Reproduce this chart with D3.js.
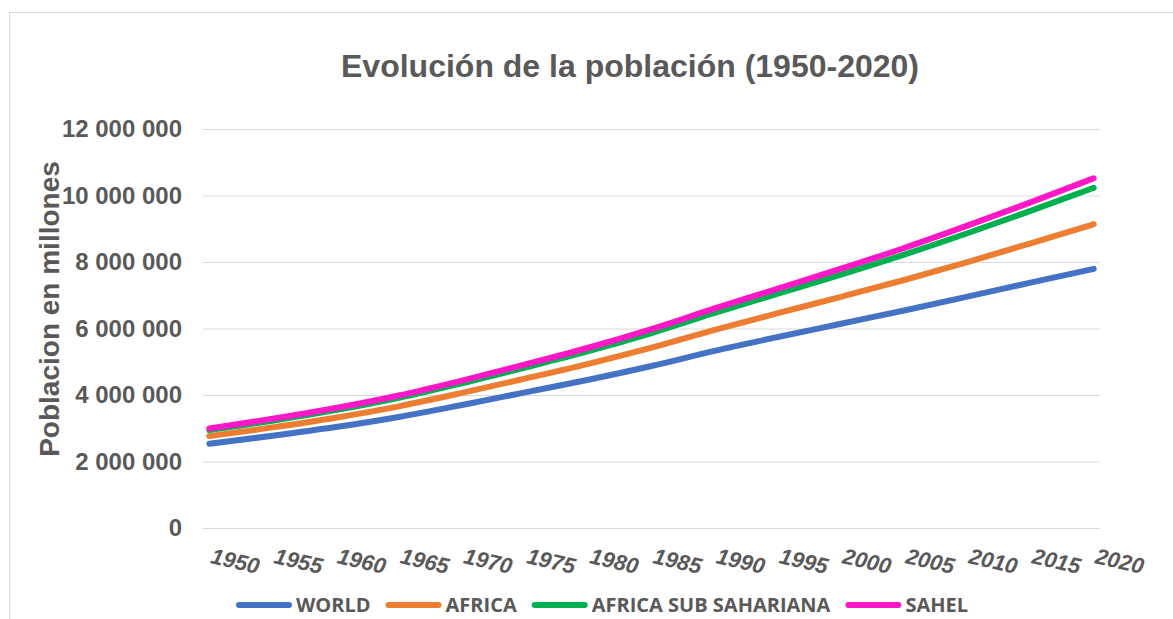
<!DOCTYPE html>
<html>
<head>
<meta charset="utf-8">
<script src="https://cdn.jsdelivr.net/npm/d3@7"></script>
<style>
  body { margin: 0; background: #fff; }
  svg { display: block; }
</style>
</head>
<body>
<svg id="viz"></svg>
<script>
var width = 1173;
var height = 619;

// population, thousands (5-year steps)
var years = [1950, 1955, 1960, 1965, 1970, 1975, 1980, 1985, 1990, 1995, 2000, 2005, 2010, 2015, 2020];
var world = [2536000, 2773000, 3035000, 3340000, 3700000, 4079000, 4458000, 4871000, 5327000, 5744000, 6143000, 6542000, 6957000, 7380000, 7795000];
var africa = [228000, 253000, 283000, 319000, 363000, 415000, 478000, 551000, 630000, 717000, 811000, 916000, 1039000, 1182000, 1341000];
var subSahara = [179000, 201000, 227000, 256000, 291000, 332000, 381000, 441000, 510000, 585000, 669000, 764000, 869000, 974000, 1094000];
var sahel = [50000, 56000, 63000, 71000, 80000, 91000, 104000, 119000, 136000, 155000, 176000, 200000, 227000, 256000, 288000];

var seriesKeys = ["WORLD", "AFRICA", "AFRICA SUB SAHARIANA", "SAHEL"];
var seriesColors = ["#4472C4", "#ED7D31", "#00B050", "#FF17C8"];
var tickLabels = ["1950", "1955", "1960", "1965", "1970", "1975", "1980", "1985", "1990", "1995", "2000", "2005", "2010", "2015", "2020"];

var textColor = "#595959";
var gridColor = "#d9d9d9";

var rows = years.map(function (yr, i) {
  return { year: yr, "WORLD": world[i], "AFRICA": africa[i], "AFRICA SUB SAHARIANA": subSahara[i], "SAHEL": sahel[i] };
});

// stacked line chart (each line sits on top of the previous one)
var stacked = d3.stack().keys(seriesKeys)(rows);

var plot = { left: 203, right: 1100, top: 129, bottom: 528 };

var x = d3.scaleLinear()
  .domain([1949.5, 2020.5])
  .range([plot.left, plot.right]);

var y = d3.scaleLinear()
  .domain([0, 12000000])
  .range([plot.bottom, plot.top]);

var color = d3.scaleOrdinal(seriesKeys, seriesColors);

var fmt = d3.formatLocale({ decimal: ",", thousands: " ", grouping: [3], currency: ["", ""] }).format(",d");

var svg = d3.select("#viz")
  .attr("width", width)
  .attr("height", height);

svg.append("rect")
  .attr("width", width)
  .attr("height", height)
  .attr("fill", "#fff");

// chart frame
svg.append("rect")
  .attr("x", 9.5)
  .attr("y", 12.5)
  .attr("width", 1400)
  .attr("height", 800)
  .attr("fill", "none")
  .attr("stroke", gridColor)
  .attr("stroke-width", 1);

// title
svg.append("text")
  .attr("x", 630)
  .attr("y", 77)
  .attr("text-anchor", "middle")
  .style("font-family", "'Liberation Sans', Arial, sans-serif")
  .style("font-weight", "bold")
  .style("font-size", "32px")
  .style("fill", textColor)
  .text("Evolución de la población (1950-2020)");

// y axis with gridlines
var yAxis = svg.append("g")
  .attr("transform", `translate(${plot.left},0)`)
  .call(d3.axisLeft(y).ticks(6).tickFormat(fmt).tickSize(-(plot.right - plot.left)).tickPadding(21));

yAxis.select(".domain").remove();
yAxis.selectAll(".tick line")
  .attr("stroke", gridColor)
  .attr("stroke-width", 1);
yAxis.selectAll(".tick text")
  .style("font-family", "'Liberation Sans', Arial, sans-serif")
  .style("font-weight", "bold")
  .style("font-size", "24px")
  .style("fill", textColor);

// y axis title
svg.append("text")
  .attr("transform", "translate(59,309) rotate(-90)")
  .attr("text-anchor", "middle")
  .style("font-family", "'Liberation Sans', Arial, sans-serif")
  .style("font-weight", "bold")
  .style("font-size", "28px")
  .style("fill", textColor)
  .text("Poblacion en millones");

// x axis labels (slanted)
var xAxis = svg.append("g")
  .attr("transform", `translate(0,${plot.bottom})`)
  .call(d3.axisBottom(x).tickValues(years).tickFormat(function (d, i) { return tickLabels[i]; }).tickSize(0));

xAxis.select(".domain").remove();
xAxis.selectAll(".tick text")
  .attr("y", 0)
  .attr("dy", 0)
  .attr("text-anchor", "start")
  .attr("transform", "translate(0,35) rotate(13)")
  .style("font-family", "'Liberation Sans', Arial, sans-serif")
  .style("font-weight", "bold")
  .style("font-style", "italic")
  .style("font-size", "22px")
  .style("fill", textColor);

// lines
var line = d3.line()
  .x(function (d) { return x(d.data.year); })
  .y(function (d) { return y(d[1]); })
  .curve(d3.curveMonotoneX);

svg.append("g")
  .selectAll("path")
  .data(stacked)
  .join("path")
  .attr("fill", "none")
  .attr("stroke", function (d) { return color(d.key); })
  .attr("stroke-width", 6)
  .attr("stroke-linecap", "round")
  .attr("stroke-linejoin", "round")
  .attr("d", line);

// legend
var legend = svg.append("g").attr("class", "legend");
var lx = 239;
var ly = 605;
seriesKeys.forEach(function (k) {
  legend.append("line")
    .attr("x1", lx)
    .attr("x2", lx + 50)
    .attr("y1", ly)
    .attr("y2", ly)
    .attr("stroke", color(k))
    .attr("stroke-width", 6)
    .attr("stroke-linecap", "round");
  var t = legend.append("text")
    .attr("x", lx + 57)
    .attr("y", ly)
    .attr("dy", "0.36em")
    .style("font-family", "'Open Sans', 'Noto Sans', sans-serif")
    .style("font-weight", "bold")
    .style("font-size", "20px")
    .style("fill", textColor)
    .text(k);
  lx = lx + 57 + t.node().getComputedTextLength() + 18;
});
</script>
</body>
</html>
